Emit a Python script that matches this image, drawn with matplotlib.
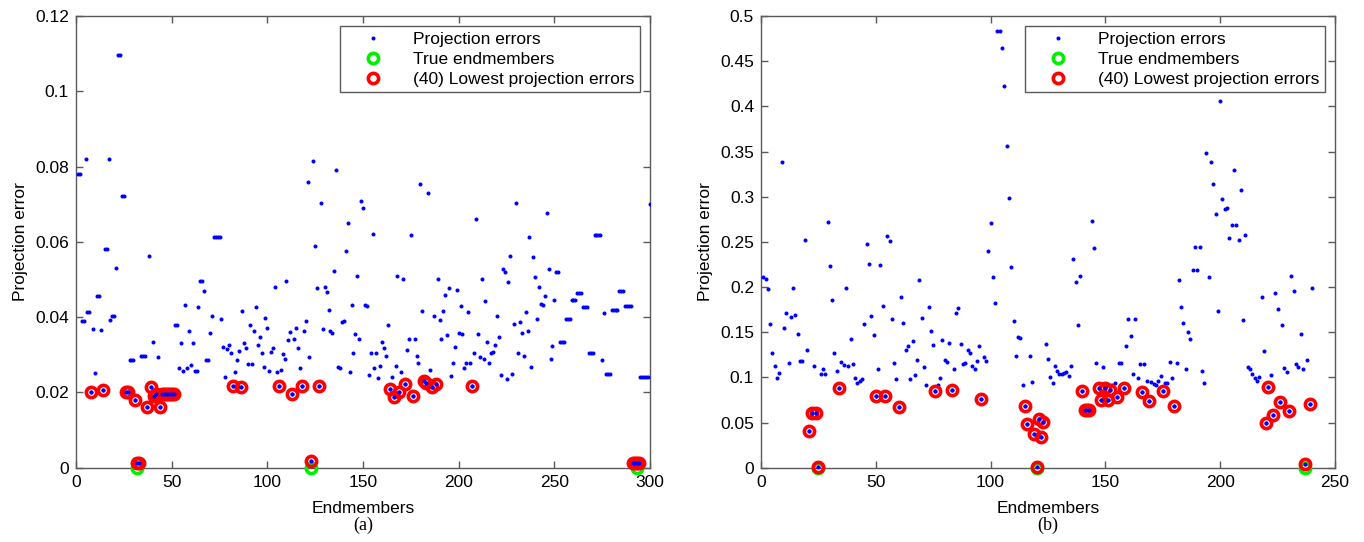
import numpy as np
import matplotlib
matplotlib.use('Agg')
import matplotlib.pyplot as plt
from matplotlib.ticker import FuncFormatter

plt.rcParams['font.family'] = ['Liberation Sans', 'DejaVu Sans']

# (a) projection error for each candidate endmember (300 candidates)
err_a = [
    .078, .078, .039, .039, .082, .0414, .0414, .020, .0368, .0252,
    .0456, .0456, .0365, .0206, .058, .058, .0821, .0392, .0403, .0403,
    .0531, .1096, .1096, .0723, .0723, .020, .020, .0285, .0285, .0285,
    .018, .0012, .0012, .0298, .0298, .0298, .0162, .0563, .0215, .0335,
    .019, .0197, .0295, .016, .0197, .0197, .0197, .0197, .0197, .0197,
    .0197, .038, .038, .0264, .033, .0258, .0433, .0264, .0364, .0274,
    .0331, .0258, .0258, .0428, .0496, .0496, .0469, .0287, .0287, .0358,
    .0404, .0613, .0613, .0613, .0613, .0395, .032, .0242, .0315, .0327,
    .0304, .0217, .0255, .0286, .031, .0215, .0416, .0332, .0319, .0275,
    .038, .0275, .0362, .0428, .0326, .0347, .0304, .0267, .0398, .0372,
    .0258, .0307, .0319, .048, .0255, .0218, .0259, .0302, .0288, .0495,
    .0339, .0361, .0196, .0343, .0372, .0319, .0265, .0217, .0364, .0391,
    .0758, .0293, .0018, .0815, .059, .0478, .0218, .0703, .0369, .048,
    .0467, .0418, .0364, .0357, .0523, .0792, .0268, .0265, .0386, .0391,
    .0576, .065, .0254, .0431, .0304, .0355, .0508, .0341, .0708, .0691,
    .0433, .043, .0245, .0304, .062, .0265, .0304, .0237, .027, .0334,
    .0319, .0298, .038, .0208, .0242, .0188, .0269, .051, .0201, .0254,
    .0501, .0222, .0312, .0343, .0619, .0191, .0343, .0298, .0279, .0754,
    .0416, .0231, .0225, .0731, .0259, .0215, .0404, .0222, .0502, .0393,
    .0343, .0417, .0458, .0352, .0477, .0243, .0279, .0321, .0472, .0359,
    .0429, .0355, .0264, .0279, .0414, .0279, .0217, .0304, .0662, .0356,
    .0295, .05, .029, .0444, .0333, .0278, .0306, .0308, .0325, .0404,
    .0346, .0247, .0527, .0519, .0235, .0494, .0562, .025, .0381, .0702,
    .0304, .0387, .0357, .0296, .0414, .0362, .0613, .0268, .0559, .0506,
    .0394, .0479, .0436, .0431, .0457, .0676, .0527, .0288, .0323, .0445,
    .0519, .0519, .0333, .0333, .0333, .0396, .0396, .0396, .0445, .0445,
    .0445, .0464, .0464, .0464, .0427, .0427, .0427, .0304, .0304, .0304,
    .0617, .0617, .0617, .0617, .0286, .0412, .025, .025, .025, .0418,
    .0418, .0418, .0418, .0469, .0469, .0469, .0429, .0429, .0429, .0429,
    .0012, .0012, .0012, .0012, .0242, .0242, .0242, .0242, .0242, .0701,
]
true_a = [32, 123, 293]

# (b) projection error for each candidate endmember (240 candidates)
err_b = [
    .2114, .2092, .198, .159, .1266, .1122, .0996, .105, .3387, .1542,
    .1708, .1162, .1672, .1985, .1686, .1483, .1177, .1181, .2517, .1303,
    .0402, .0609, .1125, .0601, .001, .104, .1096, .1033, .272, .2236,
    .1852, .1266, .1066, .0882, .117, .1133, .1985, .1122, .1421, .1151,
    .0996, .0934, .0963, .0978, .1587, .2472, .2251, .1683, .1469, .079,
    .1089, .2244, .179, .0793, .2565, .2509, .1642, .1162, .0982, .0675,
    .1886, .1605, .1299, .1343, .0982, .1399, .1022, .1192, .2074, .1657,
    .1114, .0919, .1775, .1517, .1362, .0849, .0911, .0996, .1413, .1196,
    .117, .1384, .086, .1092, .1716, .1771, .1365, .1144, .1155, .1299,
    .1273, .1125, .1089, .1181, .1351, .0756, .1229, .1185, .2399, .2705,
    .2114, .1827, .4834, .4834, .465, .4229, .3557, .2982, .2225, .162,
    .124, .1443, .1435, .0915, .0683, .0483, .124, .0952, .0369, .001,
    .0542, .0343, .0502, .1369, .1207, .1004, .0934, .1122, .107, .1033,
    .1033, .1048, .1059, .1015, .1125, .2306, .2055, .1579, .2122, .0849,
    .0638, .0638, .0638, .2734, .2432, .1155, .0886, .0749, .1114, .0886,
    .0749, .086, .0915, .0934, .0779, .1162, .1162, .0886, .1351, .1649,
    .1458, .1033, .1649, .0996, .1144, .0838, .1144, .0963, .0742, .0952,
    .0926, .0915, .0963, .1015, .0849, .0941, .0941, .117, .0996, .0683,
    .1162, .2077, .1782, .1598, .1096, .1502, .1424, .2185, .2439, .2185,
    .2439, .1066, .0941, .348, .2114, .3384, .3137, .2804, .1731, .4063,
    .297, .286, .2875, .2539, .2683, .3295, .2686, .252, .3074, .1635,
    .2576, .1111, .1089, .1037, .0989, .0959, .1, .1893, .1295, .0498,
    .0889, .1022, .0579, .193, .1756, .0723, .1579, .11, .1063, .0624,
    .2122, .1952, .1144, .1118, .148, .1092, .004, .1192, .0705, .1993,
]
true_b = [25, 120, 237]

n_lowest = 40

paneles = [
    (err_a, true_a, 300, 50, 0.12, 0.02, 76, '(a)'),
    (err_b, true_b, 250, 50, 0.5, 0.05, 761, '(b)'),
]

fig = plt.figure(figsize=(13.64, 5.42), dpi=100)
W, H = 1364, 542
gris = '#5a5a5a'

for err, true_idx, xmax, xstep, ymax, ystep, left_px, etiqueta in paneles:
    err = np.array(err)
    x = np.arange(1, len(err) + 1)
    lowest = np.argsort(err, kind='stable')[:n_lowest]

    ax = fig.add_axes([left_px / W, (H - 467.7) / H, 574 / W, 451.7 / H])
    ax.plot(x, err, 'o', color='#0000ff', markersize=2.9, markeredgewidth=0,
            label='Projection errors', zorder=3)
    ax.plot(true_idx, np.zeros(len(true_idx)), 'o', mfc='none', mec='#00ee00',
            markersize=7.4, markeredgewidth=2.6, label='True endmembers',
            clip_on=False, zorder=4)
    ax.plot(x[lowest], err[lowest], 'o', mfc='none', mec='#ff0000',
            markersize=7.4, markeredgewidth=2.6,
            label='(%d) Lowest projection errors' % n_lowest,
            clip_on=False, zorder=5)
    # blue dots again so they sit on top of the rings
    ax.plot(x[lowest], err[lowest], 'o', color='#0000ff', markersize=2.9,
            markeredgewidth=0, zorder=6, clip_on=False)

    ax.set_xlim(0, xmax)
    ax.set_ylim(0, ymax)
    ax.set_xticks(np.arange(0, xmax + 1, xstep))
    ax.set_yticks(np.arange(0, ymax + ystep / 2, ystep))
    ax.yaxis.set_major_formatter(FuncFormatter(lambda v, p: '%g' % round(v, 4)))
    ax.tick_params(direction='in', length=5, width=1, color=gris,
                   top=True, right=True, labelsize=12.5, pad=5)
    for s in ax.spines.values():
        s.set_color(gris)
        s.set_linewidth(1)

    ax.set_xlabel('Endmembers', fontsize=12.5, labelpad=8)
    ax.set_ylabel('Projection error', fontsize=12.5, labelpad=5)

    leg = ax.legend(loc='upper right', fontsize=12.5, handlelength=3.2,
                    handletextpad=0.7, borderaxespad=0.6, borderpad=0.3,
                    labelspacing=0.28, fancybox=False, framealpha=1,
                    edgecolor=gris)
    leg.get_frame().set_linewidth(1)

    fig.text((left_px + 287) / W, 1 - 525 / H, etiqueta, ha='center', va='center',
             fontsize=13, family=['Liberation Serif', 'DejaVu Serif'])

fig.savefig('out.png', dpi=100)
